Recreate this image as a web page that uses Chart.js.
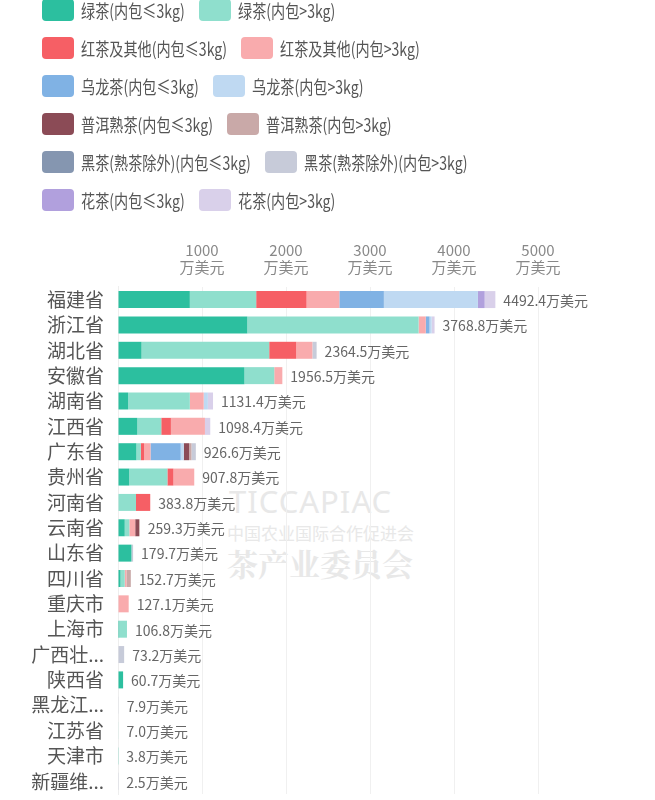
<!DOCTYPE html>
<html>
<head>
<meta charset="utf-8">
<script src="https://cdn.jsdelivr.net/npm/chart.js@4.4.1/dist/chart.umd.min.js"></script>
<style>
  html, body { margin: 0; padding: 0; background: #fff; }
  body { width: 655px; height: 800px; position: relative; overflow: hidden; font-family: "Noto Sans CJK SC", "Noto Sans", sans-serif; }
  #legend { position: absolute; left: 42px; top: -9.5px; z-index: 2; }
  .lrow { height: 38px; display: flex; align-items: center; }
  .litem { display: flex; align-items: center; margin-right: 14px; }
  .lbox { width: 32px; height: 22px; border-radius: 4px; margin-right: 7px; flex: none; }
  .lout { display: inline-block; overflow: visible; white-space: nowrap; height: 24px; line-height: 24px; }
  .ltxt { display: inline-block; font-size: 18px; color: #555; white-space: nowrap; transform-origin: 0 50%; }
  #wm { position: absolute; left: 0; top: 0; width: 655px; height: 800px; z-index: 0; color: #e8e8e8; }
  #wm div { position: absolute; white-space: nowrap; }
  #wrap { position: absolute; left: 0; top: 0; width: 655px; height: 800px; z-index: 1; }
</style>
</head>
<body>
<div id="wm">
  <div style="left:229px; top:480px; font-size:31px; letter-spacing:1px; font-family:'Noto Sans','DejaVu Sans',sans-serif;">TICCAPIAC</div>
  <div style="left:227px; top:520px; font-size:17px;">中国农业国际合作促进会</div>
  <div style="left:227px; top:540px; font-size:31px; font-family:'Noto Serif CJK SC','Noto Sans CJK SC',serif; font-weight:bold;">茶产业委员会</div>
</div>
<div id="legend"></div>
<div id="wrap"><canvas id="c" width="655" height="800"></canvas></div>
<script>
const categories = ['福建省','浙江省','湖北省','安徽省','湖南省','江西省','广东省','贵州省','河南省','云南省','山东省','四川省','重庆市','上海市','广西壮族自治区','陕西省','黑龙江省','江苏省','天津市','新疆维吾尔自治区'];
const totals = [4492.4, 3768.8, 2364.5, 1956.5, 1131.4, 1098.4, 926.6, 907.8, 383.8, 259.3, 179.7, 152.7, 127.1, 106.8, 73.2, 60.7, 7.9, 7.0, 3.8, 2.5];
const xTicks = [1000, 2000, 3000, 4000, 5000];
const unit = '万美元';

const seriesNames = ['绿茶(内包≤3kg)','绿茶(内包>3kg)','红茶及其他(内包≤3kg)','红茶及其他(内包>3kg)','乌龙茶(内包≤3kg)','乌龙茶(内包>3kg)','普洱熟茶(内包≤3kg)','普洱熟茶(内包>3kg)','黑茶(熟茶除外)(内包≤3kg)','黑茶(熟茶除外)(内包>3kg)','花茶(内包≤3kg)','花茶(内包>3kg)'];

const greenSmall  = [855, 1539, 280, 1505, 120, 230, 219, 133, 0, 80, 160, 30, 0, 15, 0, 60.7, 0, 0, 3.8, 0];
const greenLarge  = [790, 2039.8, 1520, 355, 735, 285, 52, 455, 214, 55, 0, 50, 0, 91.8, 0, 0, 0, 7.0, 0, 0];
const redSmall    = [600, 0, 322, 0, 0, 115, 40, 72, 169.8, 0, 0, 0, 0, 0, 0, 0, 0, 0, 0, 0];
const redLarge    = [390, 85, 192, 96.5, 165, 405, 76, 247.8, 0, 70, 0, 20, 127.1, 0, 0, 0, 0, 0, 0, 0];
const oolongSmall = [530, 45, 0, 0, 0, 0, 359.6, 0, 0, 0, 0, 0, 0, 0, 0, 0, 0, 0, 0, 0];
const oolongLarge = [1120, 25, 0, 0, 50, 0, 36, 0, 0, 0, 0, 0, 0, 0, 0, 0, 0, 0, 0, 0];
const puerSmall   = [0, 0, 0, 0, 0, 0, 64, 0, 0, 45, 0, 0, 0, 0, 0, 0, 0, 0, 0, 0];
const puerLarge   = [0, 0, 0, 0, 0, 0, 28, 0, 0, 9.3, 0, 52.7, 0, 0, 0, 0, 0, 0, 0, 0];
const darkSmall   = [0, 0, 0, 0, 0, 0, 0, 0, 0, 0, 0, 0, 0, 0, 0, 0, 0, 0, 0, 0];
const darkLarge   = [0, 0, 50.5, 0, 0, 0, 52, 0, 0, 0, 19.7, 0, 0, 0, 73.2, 0, 7.9, 0, 0, 2.5];
const flowerSmall = [80, 0, 0, 0, 0, 0, 0, 0, 0, 0, 0, 0, 0, 0, 0, 0, 0, 0, 0, 0];
const flowerLarge = [127.4, 35, 0, 0, 61.4, 63.4, 0, 0, 0, 0, 0, 0, 0, 0, 0, 0, 0, 0, 0, 0];

const seriesValues = [greenSmall, greenLarge, redSmall, redLarge, oolongSmall, oolongLarge, puerSmall, puerLarge, darkSmall, darkLarge, flowerSmall, flowerLarge];
const colors = ['#2cbf9f','#8fdfcd','#f65f65','#f9abad','#80b2e4','#bfd9f2','#8b4b56','#c9a9a8','#8596b0','#c7cbd9','#b1a0dd','#d9d0ea'];

// HTML legend, two items per row (text horizontally condensed like the reference)
const SQ = 0.785;
const legendEl = document.getElementById('legend');
const spans = [];
for (let r = 0; r < seriesNames.length; r += 2) {
  const row = document.createElement('div');
  row.className = 'lrow';
  for (let k = r; k < r + 2; k++) {
    const it = document.createElement('div');
    it.className = 'litem';
    const b = document.createElement('div');
    b.className = 'lbox';
    b.style.background = colors[k];
    const o = document.createElement('span');
    o.className = 'lout';
    const t = document.createElement('span');
    t.className = 'ltxt';
    t.textContent = seriesNames[k];
    o.appendChild(t);
    it.appendChild(b); it.appendChild(o);
    row.appendChild(it);
    spans.push([o, t]);
  }
  legendEl.appendChild(row);
}
spans.forEach(([o, t]) => {
  const w = t.getBoundingClientRect().width;
  o.style.width = (w * SQ) + 'px';
  t.style.transform = 'scaleX(' + SQ + ')';
});

const totalLabels = {
  id: 'totalLabels',
  afterDatasetsDraw(chart) {
    const ctx = chart.ctx;
    const xs = chart.scales.x, ys = chart.scales.y;
    ctx.save();
    ctx.font = '14px "Noto Sans CJK SC", "Noto Sans", sans-serif';
    ctx.fillStyle = '#666';
    ctx.textAlign = 'left';
    ctx.textBaseline = 'middle';
    totals.forEach((v, i) => {
      ctx.fillText(v.toFixed(1) + unit, xs.getPixelForValue(v) + 8, ys.getPixelForValue(i) + 1);
    });
    ctx.restore();
  }
};

new Chart(document.getElementById('c'), {
  type: 'bar',
  data: {
    labels: categories,
    datasets: seriesNames.map((n, k) => ({
      label: n,
      data: seriesValues[k],
      backgroundColor: colors[k],
      borderWidth: 0,
      categoryPercentage: 0.67,
      barPercentage: 1
    }))
  },
  options: {
    indexAxis: 'y',
    responsive: false,
    animation: false,
    events: [],
    layout: { padding: { top: 231, right: 117, bottom: 6, left: 0 } },
    plugins: { legend: { display: false }, tooltip: { enabled: false } },
    scales: {
      x: {
        position: 'top',
        stacked: true,
        min: 0,
        max: 5000,
        border: { display: false },
        grid: { color: '#f0f0f0', drawTicks: false, lineWidth: 1 },
        afterBuildTicks: (s) => { s.ticks = [0].concat(xTicks).map(v => ({ value: v })); },
        afterFit: (s) => { s.paddingLeft = 0; s.paddingRight = 0; },
        ticks: {
          padding: 11,
          color: '#888',
          font: { size: 15, family: '"Noto Sans CJK SC", "Noto Sans", sans-serif', lineHeight: 1.13 },
          callback: (v) => v === 0 ? '' : [String(v), unit]
        }
      },
      y: {
        stacked: true,
        border: { display: true, color: '#eeeeee' },
        grid: { display: false, drawTicks: false },
        afterFit: (s) => { s.width = 118; s.paddingTop = 0; s.paddingBottom = 0; },
        ticks: {
          padding: 14,
          color: '#555',
          font: { size: 19, family: '"Noto Sans CJK SC", "Noto Sans", sans-serif' },
          autoSkip: false,
          callback: function (v, i) {
            const n = categories[i];
            return n.length > 3 ? n.slice(0, 3) + '...' : n;
          }
        }
      }
    }
  },
  plugins: [totalLabels]
});
</script>
</body>
</html>
